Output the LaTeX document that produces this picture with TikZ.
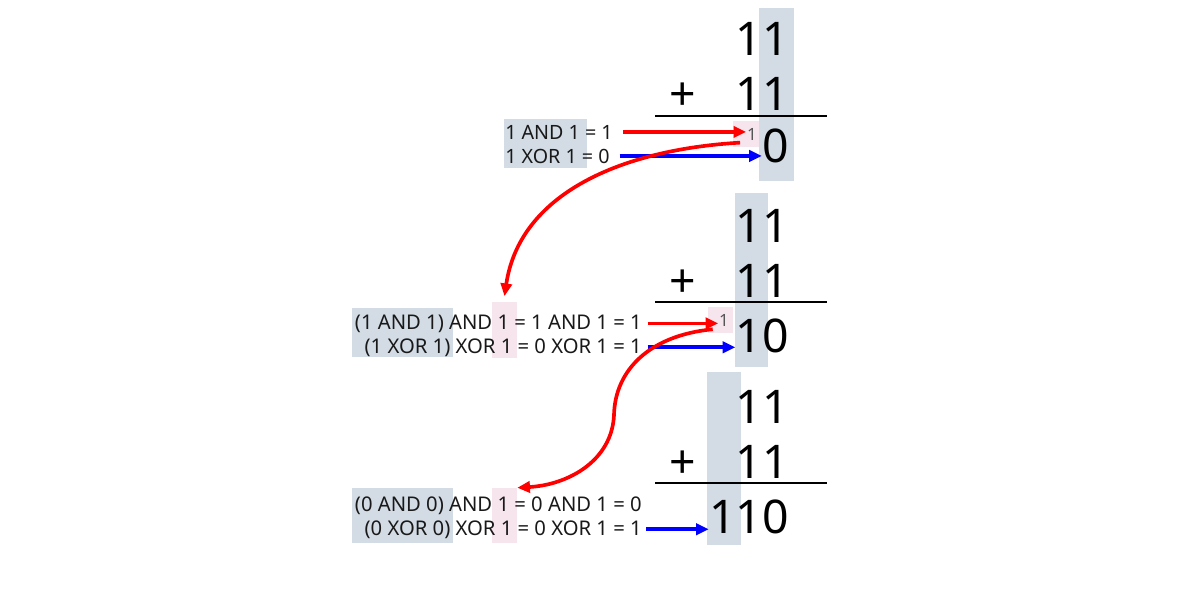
\documentclass[tikz,border=0pt]{standalone}
\usepackage{fontspec}
\setmainfont{Noto Sans}
\usepackage{xcolor}
\usetikzlibrary{arrows.meta}
\definecolor{columnBlue}{HTML}{D3DCE5}
\definecolor{carryPink}{HTML}{F7E5EE}
\definecolor{andRed}{HTML}{FF0000}
\definecolor{xorBlue}{HTML}{0000FF}
\definecolor{carryGray}{HTML}{555555}

\begin{document}
\begin{tikzpicture}[x=0.025cm, y=-0.025cm,
    digits/.style={anchor=base east, inner sep=0pt, font=\fontsize{33}{33}\selectfont},
    plus/.style={anchor=base, inner sep=0pt, font=\fontsize{33}{33}\selectfont},
    logic/.style={inner sep=0pt, text=black!90, font=\fontsize{14.4}{14.4}\selectfont},
    logicSmall/.style={logic, font=\fontsize{14}{14}\selectfont},
    carryBox/.style={fill=carryPink, inner sep=0pt, minimum width=18pt},
    carryDigit/.style={inner sep=0.5pt, text=carryGray, font=\fontsize{12}{12}\selectfont},
    sumRule/.style={line width=1.4pt},
    andArrow/.style={draw=andRed, line width=2.6pt, -{Triangle[length=9pt,width=8pt]}},
    xorArrow/.style={draw=xorBlue, line width=2.6pt, -{Triangle[length=9pt,width=8pt]}}]
     \useasboundingbox (0,0) rectangle (1183,592);
     % First column.
     \fill [columnBlue] (759,8) rectangle (794,181);
     \fill [columnBlue] (504,119) rectangle (587,168);
     \node [carryBox, minimum height=19pt] (carryOne) at (746,134) {};
      \node [carryDigit] (carryDigitOne) at (752,134) {1};
     \node [digits] (topOne) at (789,55) {11};
     \node [plus] (plusOne) at (683,110) {+};
     \node [digits] (botOne) at (789,110) {11};
     \draw [sumRule] (655,116) -- (827,116);
     \node [digits] (sumOne) at (789,162) {0};
      \node [logicSmall, anchor=base west] (andOne) at (505,139) {1 AND 1 = 1};
      \node [logicSmall, anchor=base west] (xorOne) at (505,163) {1 XOR 1 = 0};
     \draw [andArrow, shorten <=7pt] (andOne.east) -- (andOne.east -| carryDigitOne.west);
     \draw [xorArrow, shorten <=7pt] (xorOne.east) -- (xorOne.east -| sumOne.west);
     % Second column.
     \fill [columnBlue] (735,193) rectangle (768,367);
     \fill [columnBlue] (352,308) rectangle (453,357);
     \node [carryBox, minimum width=17.8pt, minimum height=39.8pt] (pinkTwo) at (504.5,330) {};
     \node [carryBox, minimum width=17.8pt, minimum height=18.5pt] (carryTwo) at (720.5,320) {};
      \node [carryDigit] (carryDigitTwo) at (724,320) {1};
     \node [digits] (topTwo) at (789,242) {11};
     \node [plus] (plusTwo) at (683,297) {+};
     \node [digits] (botTwo) at (789,297) {11};
     \draw [sumRule] (655,302) -- (827,302);
     \node [digits] (sumTwo) at (789,352) {10};
      \node [logic, anchor=base east] (andTwo) at (642,329) {(1 AND 1) AND 1 = 1 AND 1 = 1};
      \node [logic, anchor=base east] (xorTwo) at (642,353) {(1 XOR 1) XOR 1 = 0 XOR 1 = 1};
     \draw [andArrow, shorten <=4pt] (andTwo.east) -- (andTwo.east -| carryDigitTwo.west);
     \draw [xorArrow, shorten <=4pt] (xorTwo.east) -- (xorTwo.east -| sumTwo.west);
     % Third column.
     \fill [columnBlue] (707,372) rectangle (741,545);
     \fill [columnBlue] (352,488) rectangle (453,543);
     \node [carryBox, minimum width=17.8pt, minimum height=39.1pt] (pinkThree) at (504.5,515.5) {};
     \node [digits] (topThree) at (789,423) {11};
     \node [plus] (plusThree) at (683,478) {+};
     \node [digits] (botThree) at (789,478) {11};
     \draw [sumRule] (655,483) -- (827,483);
     \node [digits] (sumThree) at (789,533) {110};
      \node [logic, anchor=base east] (andThree) at (642,511) {(0 AND 0) AND 1 = 0 AND 1 = 0};
      \node [logic, anchor=base east] (xorThree) at (642,535) {(0 XOR 0) XOR 1 = 0 XOR 1 = 1};
     \draw [xorArrow, shorten <=3pt] (xorThree.east) -- (xorThree.east -| sumThree.west);
     % Carries.
     \coordinate (bendTwo) at (614,415);
     \draw [andArrow] ([shift={(7,-5)}]carryOne.south west)
       .. controls +(-120,7) and +(15,-102) .. ([yshift=4pt]pinkTwo.north);
     \draw [andArrow] ([shift={(5,-4)}]carryTwo.south west)
       .. controls +(-63,6) and +(1,-45) .. (bendTwo)
       .. controls +(-2,45) and +(52,-3) .. (pinkThree.north east);
   \end{tikzpicture}
\end{document}
